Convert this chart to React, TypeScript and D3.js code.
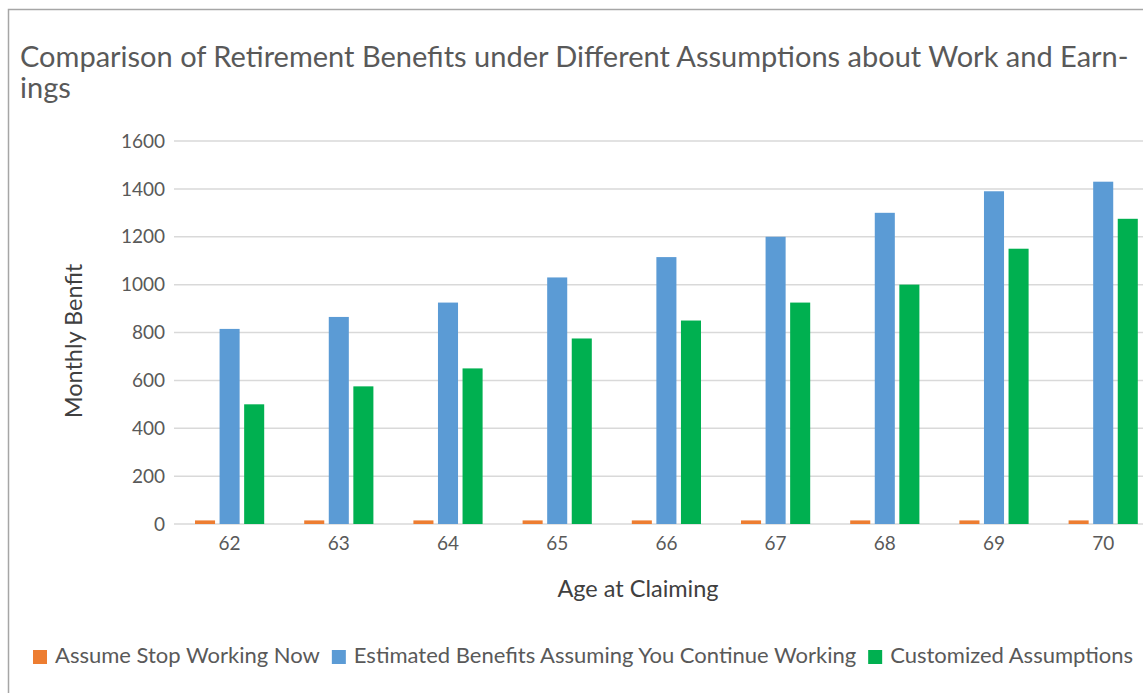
import React, { useEffect, useRef } from 'react';
import * as d3 from 'd3';

const ages = ['62', '63', '64', '65', '66', '67', '68', '69', '70'];
const stopNow = [15, 15, 15, 15, 15, 15, 15, 15, 15];
const continueWorking = [815, 865, 925, 1030, 1115, 1200, 1300, 1390, 1430];
const customized = [500, 575, 650, 775, 850, 925, 1000, 1150, 1275];
const seriesNames = [
  'Assume Stop Working Now',
  'Estimated Benefits Assuming You Continue Working',
  'Customized Assumptions',
];
const seriesColors = ['#ED7D31', '#5B9BD5', '#00B050'];
const yTicks = [0, 200, 400, 600, 800, 1000, 1200, 1400, 1600];

const W = 1143;
const H = 693;
const FONT = 'Lato, "Open Sans", sans-serif';

const App = () => {
  const svgRef = useRef<SVGSVGElement>(null);

  useEffect(() => {
    document.body.style.margin = '0';
    document.body.style.overflow = 'hidden';

    const svg = d3.select(svgRef.current);
    svg.selectAll('*').remove();

    const series = [stopNow, continueWorking, customized];

    const x = d3
      .scaleBand()
      .domain(ages)
      .range([175, 175 + ages.length * 109.2])
      .padding(0);
    const inner = d3
      .scaleBand()
      .domain(seriesNames)
      .range([20, x.bandwidth() - 20])
      .paddingInner(0.184)
      .paddingOuter(0);
    const y = d3.scaleLinear().domain([0, 1600]).range([524, 141]);

    // frame
    svg
      .append('rect')
      .attr('x', 8.5)
      .attr('y', 9.5)
      .attr('width', W + 50)
      .attr('height', H + 50)
      .attr('fill', '#fff')
      .attr('stroke', '#a6a6a6')
      .attr('stroke-width', 1.5);

    // title
    const title = svg
      .append('text')
      .attr('font-family', FONT)
      .attr('font-size', 29)
      .attr('fill', '#595959');
    title.append('tspan').attr('x', 20).attr('y', 67).text(
      'Comparison of Retirement Benefits under Different Assumptions about Work and Earn-'
    );
    title.append('tspan').attr('x', 20).attr('y', 98).text('ings');

    // gridlines
    svg
      .append('g')
      .selectAll('line')
      .data(yTicks)
      .join('line')
      .attr('x1', 174)
      .attr('x2', W + 20)
      .attr('y1', (d) => y(d))
      .attr('y2', (d) => y(d))
      .attr('stroke', '#d9d9d9')
      .attr('stroke-width', 1.5);

    // y tick labels
    svg
      .append('g')
      .selectAll('text')
      .data(yTicks)
      .join('text')
      .attr('x', 165)
      .attr('y', (d) => y(d))
      .attr('dy', '0.35em')
      .attr('text-anchor', 'end')
      .attr('font-family', FONT)
      .attr('font-size', 19)
      .attr('fill', '#595959')
      .text((d) => d);

    // bars
    const groups = svg
      .append('g')
      .selectAll('g')
      .data(series)
      .join('g')
      .attr('fill', (d, i) => seriesColors[i]);
    groups
      .selectAll('rect')
      .data((d, i) => d.map((v, j) => ({ v, age: ages[j], s: seriesNames[i] })))
      .join('rect')
      .attr('x', (d) => x(d.age)! + inner(d.s)!)
      .attr('width', inner.bandwidth())
      .attr('y', (d) => y(d.v))
      .attr('height', (d) => y(0) - y(d.v));

    // x tick labels
    svg
      .append('g')
      .selectAll('text')
      .data(ages)
      .join('text')
      .attr('x', (d) => x(d)! + x.bandwidth() / 2)
      .attr('y', 550)
      .attr('text-anchor', 'middle')
      .attr('font-family', FONT)
      .attr('font-size', 19)
      .attr('fill', '#595959')
      .text((d) => d);

    // axis titles
    svg
      .append('text')
      .attr('x', 638)
      .attr('y', 597)
      .attr('text-anchor', 'middle')
      .attr('font-family', FONT)
      .attr('font-size', 23.5)
      .attr('fill', '#404040')
      .text('Age at Claiming');
    svg
      .append('text')
      .attr('transform', 'translate(82,341) rotate(-90)')
      .attr('text-anchor', 'middle')
      .attr('font-family', FONT)
      .attr('font-size', 23.5)
      .attr('fill', '#404040')
      .text('Monthly Benfit');

    // legend
    const legend = svg.append('g');
    let lx = 33;
    seriesNames.forEach((name, i) => {
      legend
        .append('rect')
        .attr('x', lx)
        .attr('y', 650)
        .attr('width', 14)
        .attr('height', 14)
        .attr('fill', seriesColors[i]);
      const t = legend
        .append('text')
        .attr('x', lx + 22)
        .attr('y', 663)
        .attr('font-family', FONT)
        .attr('font-size', 22)
        .attr('fill', '#595959')
        .text(name);
      const len = (t.node() as SVGTextElement).getComputedTextLength();
      lx += 22 + len + 12;
    });
  }, []);

  return <svg ref={svgRef} width={W} height={H} style={{ display: 'block' }} />;
};

export default App;
